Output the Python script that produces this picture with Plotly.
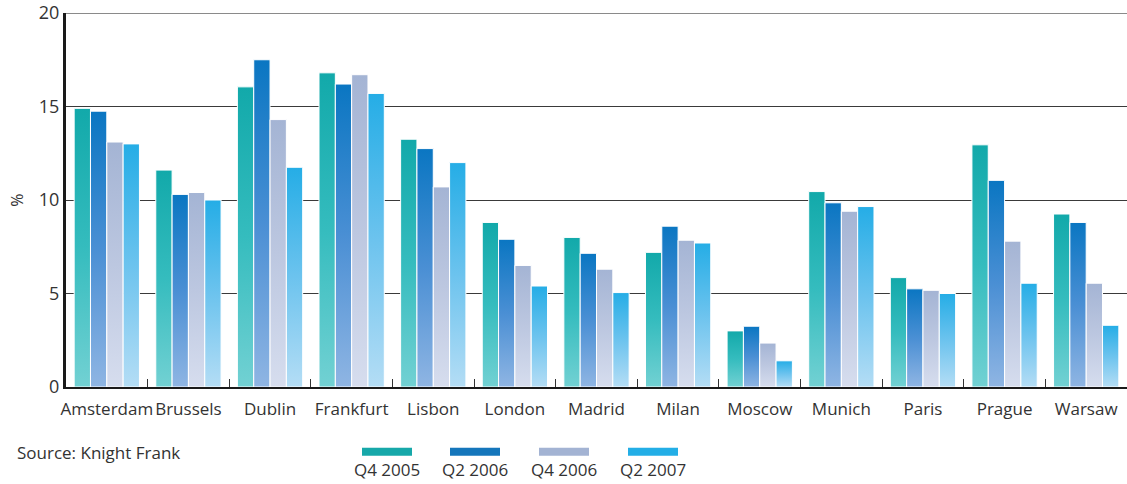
import plotly.graph_objects as go

# Office vacancy rates by city, %
cities = ["Amsterdam", "Brussels", "Dublin", "Frankfurt", "Lisbon", "London",
          "Madrid", "Milan", "Moscow", "Munich", "Paris", "Prague", "Warsaw"]
q4_2005 = [14.9, 11.6, 16.05, 16.8, 13.25, 8.8, 8.0, 7.2, 3.0, 10.45, 5.85, 12.95, 9.25]
q2_2006 = [14.75, 10.3, 17.5, 16.2, 12.75, 7.9, 7.15, 8.6, 3.25, 9.85, 5.25, 11.05, 8.8]
q4_2006 = [13.1, 10.4, 14.3, 16.7, 10.7, 6.5, 6.3, 7.85, 2.35, 9.4, 5.17, 7.8, 5.55]
q2_2007 = [13.0, 10.0, 11.75, 15.7, 12.0, 5.4, 5.05, 7.7, 1.4, 9.65, 5.0, 5.55, 3.3]
series_names = ["Q4 2005", "Q2 2006", "Q4 2006", "Q2 2007"]
series_values = [q4_2005, q2_2006, q4_2006, q2_2007]
y_ticks = [0, 5, 10, 15, 20]

# colour per series: legend swatch and vertical gradient (bottom -> top)
swatch = ["#17a8a9", "#1576bb", "#a3b3d3", "#23aee6"]
gradients = [
    [[0, "#72d1d3"], [0.5, "#35bcbe"], [1, "#12a9aa"]],
    [[0, "#8fb5e3"], [0.5, "#4a8fd4"], [1, "#0a76c2"]],
    [[0, "#d6ddee"], [0.5, "#bcc7e0"], [1, "#a4b4d4"]],
    [[0, "#b4ddf5"], [0.5, "#6cc3ee"], [1, "#25ade6"]],
]

FONT = "Open Sans"
TEXT = "#333333"

group_width = 0.8
bar_w = group_width / len(series_names)

fig = go.Figure()
for s, (name, vals) in enumerate(zip(series_names, series_values)):
    for i, v in enumerate(vals):
        x0 = i - group_width / 2 + s * bar_w
        x1 = x0 + bar_w
        fig.add_trace(go.Scatter(
            x=[x0, x0, x1, x1, x0], y=[0, v, v, 0, 0],
            mode="lines", fill="toself",
            line=dict(color="white", width=1),
            fillgradient=dict(type="vertical", colorscale=gradients[s]),
            name=name, showlegend=False, hoverinfo="skip",
        ))

pw, ph = 1061, 376  # plot area size in px

shapes = [
    # top gridline at 20
    dict(type="line", xref="paper", yref="y", x0=0, x1=1, y0=20, y1=20,
         line=dict(color="#8a8a8a", width=2), layer="above"),
]
annotations = [
    dict(text="Source: Knight Frank", xref="paper", yref="paper",
         x=(15 - 66) / pw, y=-(453 - 387) / ph, xanchor="left", yanchor="middle",
         showarrow=False, font=dict(family=FONT, size=17, color=TEXT)),
]

# legend: swatch above each label
legend_x = [387, 475, 564, 653]
for k, name in enumerate(series_names):
    cx = (legend_x[k] - 66) / pw
    shapes.append(dict(type="rect", xref="paper", yref="paper",
                       x0=cx - 25 / pw, x1=cx + 25 / pw,
                       y0=-(448 - 387) / ph, y1=-(456 - 387) / ph,
                       fillcolor=swatch[k], line=dict(width=0)))
    annotations.append(dict(text=name, xref="paper", yref="paper",
                            x=cx, y=-(470 - 387) / ph, xanchor="center", yanchor="middle",
                            showarrow=False,
                            font=dict(family=FONT, size=17, color=TEXT)))

fig.update_layout(
    width=1127, height=484,
    margin=dict(l=66, r=0, t=11, b=97),
    paper_bgcolor="white", plot_bgcolor="white",
    showlegend=False,
    shapes=shapes, annotations=annotations,
    xaxis=dict(
        range=[-0.5, len(cities) - 0.5],
        tickmode="array", tickvals=list(range(len(cities))), ticktext=cities,
        tickangle=0, ticklabeloverflow="allow",
        ticks="", showgrid=False, zeroline=False,
        showline=True, linecolor="#1a1a1a", linewidth=2,
        ticklabelstandoff=6,
        tickfont=dict(family=FONT, size=17, color=TEXT),
        minor=dict(tickmode="array",
                   tickvals=[i + 0.5 for i in range(len(cities) - 1)],
                   ticks="inside", ticklen=8, tickcolor="#333333", tickwidth=1,
                   showgrid=False),
        fixedrange=True,
    ),
    yaxis=dict(
        range=[0, 20], tickmode="array", tickvals=y_ticks,
        ticklabeloverflow="allow",
        showgrid=True, gridcolor="#3a3a3a", gridwidth=1, zeroline=False,
        showline=True, linecolor="#1a1a1a", linewidth=3,
        ticks="", ticklen=0,
        tickfont=dict(family=FONT, size=18, color=TEXT),
        title=dict(text="%", standoff=12,
                   font=dict(family=FONT, size=16, color=TEXT)),
        fixedrange=True,
    ),
)

fig.write_html("out.html")
